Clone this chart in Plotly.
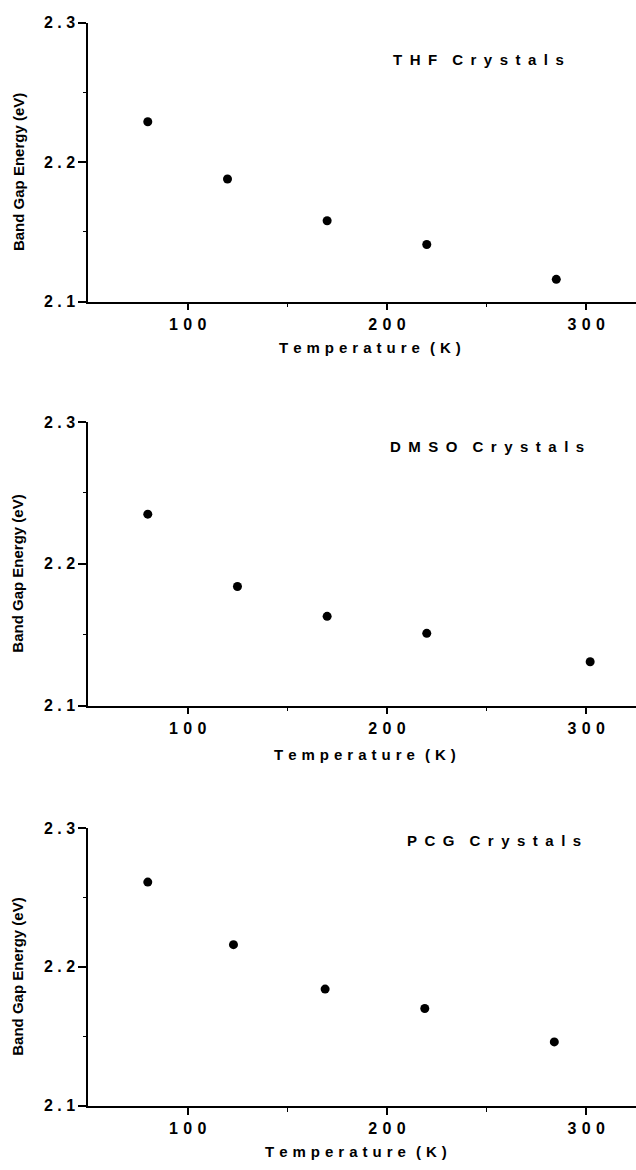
import plotly.graph_objects as go

# ---- data ----
temp_thf = [80, 120, 170, 220, 285]
gap_thf = [2.229, 2.188, 2.158, 2.141, 2.116]

temp_dmso = [80, 125, 170, 220, 302]
gap_dmso = [2.235, 2.184, 2.163, 2.151, 2.131]

temp_pcg = [80, 123, 169, 219, 284]
gap_pcg = [2.261, 2.216, 2.184, 2.170, 2.146]

EN = "\u2002"
TH = "\u2004"
def spaced(s, sep=EN, wordsep=EN * 2):
    return wordsep.join(sep.join(w) for w in s.split(" "))

panel_titles = [spaced("THF Crystals"), spaced("DMSO Crystals"), spaced("PCG Crystals")]
x_ticks = [100, 200, 300]
x_ticktext = [spaced("100", TH), spaced("200", TH), spaced("300", TH)]
y_ticks = [2.1, 2.2, 2.3]
y_ticktext = ["2 . 1", "2 . 2", "2 . 3"]
x_title = spaced("Temperature (K)", TH, TH * 2)
y_title = "Band Gap Energy (eV)"

W, H = 636, 1170
FONT = "Liberation Sans"

def px_y(y):
    return 1 - y / H

# pixel geometry of the three panels (top, bottom)
panels = [(15, 298), (420, 708), (832, 1114)]
x_left = 88 / W
xtitle_pos = [(370, 345), (365, 757), (356, 1160)]
ptitle_pos = [(478, 52), (487, 445), (494, 845)]

series = [(temp_thf, gap_thf), (temp_dmso, gap_dmso), (temp_pcg, gap_pcg)]

fig = go.Figure()
layout = dict(
    width=W, height=H,
    margin=dict(l=0, r=0, t=0, b=0),
    paper_bgcolor="white", plot_bgcolor="white",
    showlegend=False,
    font=dict(family=FONT, color="black"),
)
annotations = []
for i, ((top, bot), (tx, ty)) in enumerate(zip(panels, series)):
    n = "" if i == 0 else str(i + 1)
    fig.add_trace(go.Scatter(
        x=tx, y=ty, mode="markers",
        marker=dict(symbol="circle", size=9, color="black"),
        xaxis="x" + n, yaxis="y" + n,
    ))
    layout["xaxis" + n] = dict(
        domain=[x_left, 1.0], range=[50, 325], anchor="y" + n,
        tickvals=x_ticks, ticktext=x_ticktext,
        ticks="outside", ticklen=7, tickwidth=1.5, tickcolor="black",
        minor=dict(tickvals=[150, 250], ticks="outside", ticklen=4, tickwidth=1.2, tickcolor="black"),
        showline=True, linecolor="black", linewidth=1.5,
        showgrid=False, zeroline=False,
        tickfont=dict(family=FONT, size=16, color="black", weight="bold"),
    )
    layout["yaxis" + n] = dict(
        domain=[px_y(bot), px_y(top)], range=[2.1, 2.3], anchor="x" + n,
        tickvals=y_ticks, ticktext=y_ticktext,
        ticks="outside", ticklen=8, tickwidth=1.5, tickcolor="black",
        minor=dict(tickvals=[2.15, 2.25], ticks="outside", ticklen=3, tickwidth=1.2, tickcolor="black"),
        showline=True, linecolor="black", linewidth=1.5,
        showgrid=False, zeroline=False,
        tickfont=dict(family=FONT, size=16, color="black", weight="bold"),
    )
    cx, cy = ptitle_pos[i]
    annotations.append(dict(
        text=panel_titles[i], x=cx / W, y=px_y(cy), xref="paper", yref="paper",
        showarrow=False, xanchor="center", yanchor="middle",
        font=dict(family=FONT, size=15, color="black", weight="bold"),
    ))
    ax, ay = xtitle_pos[i]
    annotations.append(dict(
        text=x_title, x=ax / W, y=px_y(ay), xref="paper", yref="paper",
        showarrow=False, xanchor="center", yanchor="middle",
        font=dict(family=FONT, size=15, color="black", weight="bold"),
    ))
    annotations.append(dict(
        text=y_title, x=18 / W, y=px_y((top + bot) / 2 + 10), xref="paper", yref="paper",
        showarrow=False, xanchor="center", yanchor="middle", textangle=-90,
        font=dict(family=FONT, size=15, color="black", weight="bold"),
    ))

layout["annotations"] = annotations
fig.update_layout(**layout)
fig.write_html("out.html")
